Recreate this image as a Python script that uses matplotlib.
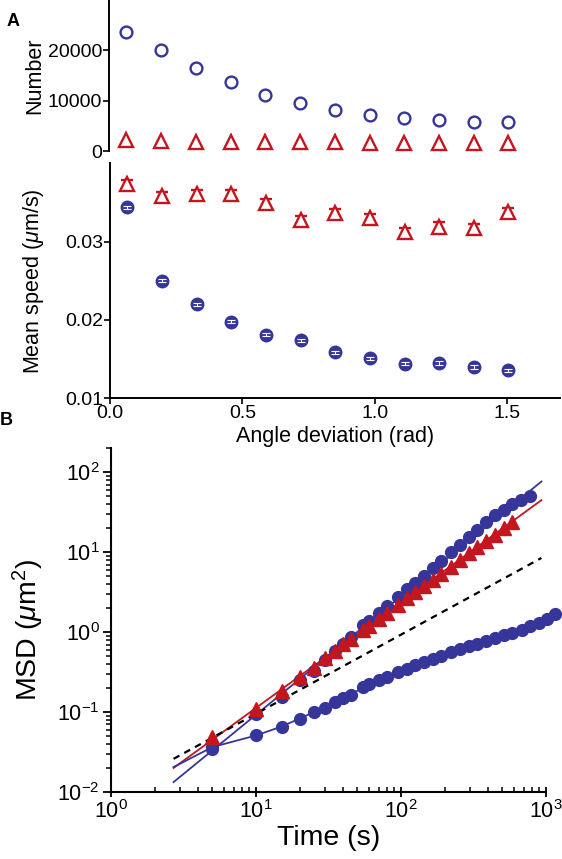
# **** imports ****
import matplotlib
matplotlib.use('Agg')
import matplotlib.pyplot as plt
from matplotlib.ticker import LogLocator, NullFormatter

# **** fonts ****
plt.rcParams['font.family'] = ['Liberation Sans', 'DejaVu Sans']
plt.rcParams['mathtext.fontset'] = 'custom'
plt.rcParams['mathtext.rm'] = 'Liberation Sans'
plt.rcParams['mathtext.it'] = 'Liberation Sans:italic'
plt.rcParams['mathtext.default'] = 'regular'

BLUE = '#35359a'
RED = '#c3161f'

# **** panel A data (angle bins, rad) ****
angle = [0.065, 0.196, 0.327, 0.458, 0.589, 0.720, 0.851, 0.982, 1.113, 1.244, 1.374, 1.505]
number_blue = [23600, 20000, 16400, 13700, 11100, 9450, 8100, 7250, 6600, 6150, 5800, 5700]
number_red = [2100, 1900, 1850, 1800, 1750, 1750, 1700, 1650, 1600, 1550, 1550, 1550]

speed_blue = [0.0344, 0.0250, 0.0220, 0.0198, 0.0181, 0.0174, 0.0159, 0.0151, 0.0144, 0.0145, 0.0140, 0.0136]
speed_blue_err = [0.0002, 0.0002, 0.0002, 0.0002, 0.0002, 0.0002, 0.0002, 0.0002, 0.0002, 0.0002, 0.0002, 0.0002]
speed_red = [0.0374, 0.0358, 0.0361, 0.0361, 0.0349, 0.0328, 0.0337, 0.0330, 0.0312, 0.0319, 0.0317, 0.0338]
speed_red_err = [0.0005, 0.0005, 0.0005, 0.0005, 0.0005, 0.0005, 0.0005, 0.0005, 0.0006, 0.0006, 0.0006, 0.0005]

# **** panel B data (time in s, MSD in um^2) ****
time_fast = [5, 10, 15, 20, 25, 30, 35, 40, 45, 55, 60, 70, 80, 95, 110, 125, 145, 165,
             190, 220, 255, 295, 335, 385, 445, 510, 585, 670, 775]
msd_fast = [0.035, 0.095, 0.154, 0.25, 0.33, 0.45, 0.59, 0.72, 0.86, 1.22, 1.37, 1.72, 2.1,
            2.74, 3.45, 4.1, 5.1, 6.4, 7.9, 10.0, 12.4, 15.4, 19.2, 23.7, 29.5, 34.0, 40.0,
            45.0, 50.0]

time_red = [5, 10, 15, 20, 25, 30, 35, 40, 45, 55, 60, 70, 80, 95, 110, 125, 145, 165,
            190, 220, 255, 295, 335, 385, 445, 510, 585]
msd_red = [0.049, 0.11, 0.185, 0.275, 0.36, 0.48, 0.59, 0.71, 0.82, 1.08, 1.2, 1.48, 1.76,
           2.2, 2.7, 3.15, 3.8, 4.5, 5.4, 6.6, 8.0, 9.7, 11.5, 13.8, 16.7, 20.0, 24.0]

time_slow = [5, 10, 15, 20, 25, 30, 35, 40, 45, 55, 60, 70, 80, 95, 110, 125, 145, 165,
             190, 220, 255, 295, 335, 385, 445, 510, 585, 680, 780, 895, 1020, 1160]
msd_slow = [0.0365, 0.051, 0.066, 0.083, 0.10, 0.114, 0.133, 0.150, 0.165, 0.205, 0.226,
            0.249, 0.279, 0.316, 0.348, 0.384, 0.422, 0.465, 0.51, 0.562, 0.62, 0.668,
            0.716, 0.772, 0.84, 0.91, 0.98, 1.07, 1.18, 1.31, 1.47, 1.70]

# **** fitted lines (end points on log-log axes) ****
fit_fast_t = [2.7, 930]
fit_fast_msd = [0.0133, 77]
fit_red_t = [2.7, 930]
fit_red_msd = [0.020, 45]
fit_slow_t = [2.7, 5]
fit_slow_msd = [0.0205, 0.0365]
diffusive_t = [2.7, 930]
diffusive_msd = [0.026, 8.5]

# **** figure ****
fig = plt.figure(figsize=(5.62, 8.59), dpi=100)

# **** panel A, top: number of steps ****
ax1 = fig.add_axes([0.194, 0.8242, 0.8024, 0.1758])
ax1.plot(angle, number_blue, 'o', ms=8.5, mfc='none', mec=BLUE, mew=1.7, clip_on=False)
ax1.plot(angle, number_red, '^', ms=9.5, mfc='none', mec=RED, mew=1.7, clip_on=False)
ax1.set_xlim(0, 1.7)
ax1.set_ylim(0, 30000)
ax1.set_yticks([0, 10000, 20000])
ax1.set_xticks([])
for side in ['top', 'right', 'bottom']:
    ax1.spines[side].set_visible(False)
ax1.spines['left'].set_linewidth(1.4)
ax1.tick_params(axis='y', direction='out', length=4, width=1.2, labelsize=14, pad=1)
ax1.set_ylabel('Number', fontsize=15.5)
ax1.yaxis.set_label_coords(-0.142, 0.5)

# **** panel A, bottom: mean speed ****
ax2 = fig.add_axes([0.1957, 0.5363, 0.8007, 0.2736])
ax2.plot(angle, speed_blue, 'o', ms=9, color=BLUE, mec=BLUE, zorder=3, clip_on=False)
ax2.errorbar(angle, speed_blue, yerr=speed_blue_err, fmt='none', ecolor='white',
             elinewidth=0.8, capsize=3, capthick=0.8, zorder=4)
ax2.errorbar(angle, speed_red, yerr=speed_red_err, fmt='^', ms=9.5, mfc='white', mec=RED,
             mew=1.7, ecolor=RED, elinewidth=1.4, capsize=4, capthick=1.4, zorder=3)
ax2.set_xlim(0, 1.7)
ax2.set_ylim(0.01, 0.04)
ax2.set_yticks([0.01, 0.02, 0.03])
ax2.set_yticklabels(['0.01', '0.02', '0.03'])
ax2.set_xticks([0.0, 0.5, 1.0, 1.5])
ax2.set_xticklabels(['0.0', '0.5', '1.0', '1.5'])
for side in ['top', 'right']:
    ax2.spines[side].set_visible(False)
ax2.spines['left'].set_linewidth(1.4)
ax2.spines['bottom'].set_linewidth(1.4)
ax2.tick_params(direction='out', length=4, width=1.2, labelsize=14, pad=1)
ax2.set_ylabel(r'Mean speed ($\mathit{\mu}$m/s)', fontsize=15.5)
ax2.yaxis.set_label_coords(-0.142, 0.5)
ax2.set_xlabel('Angle deviation (rad)', fontsize=15.5, labelpad=3)

# **** panel B: MSD ****
ax3 = fig.add_axes([0.1975, 0.078, 0.774, 0.400])
ax3.set_xscale('log')
ax3.set_yscale('log')
ax3.plot(fit_fast_t, fit_fast_msd, '-', color=BLUE, lw=1.3, zorder=2)
ax3.plot(fit_red_t, fit_red_msd, '-', color=RED, lw=1.3, zorder=2)
ax3.plot(diffusive_t, diffusive_msd, '--', color='black', lw=1.6, dashes=(3, 2.5), zorder=2)
ax3.plot(fit_slow_t, fit_slow_msd, '-', color=BLUE, lw=1.3, zorder=2)
ax3.plot(time_slow, msd_slow, '-o', color=BLUE, lw=1.3, ms=8.5, zorder=3, clip_on=False)
ax3.plot(time_fast, msd_fast, 'o', color=BLUE, ms=8.5, zorder=3, clip_on=False)
ax3.plot(time_red, msd_red, '^', color=RED, ms=9.5, zorder=4, clip_on=False)
ax3.set_xlim(1, 1000)
ax3.set_ylim(0.01, 200)
ax3.xaxis.set_major_locator(LogLocator(base=10, numticks=10))
ax3.xaxis.set_minor_locator(LogLocator(base=10, subs=range(2, 10), numticks=20))
ax3.xaxis.set_minor_formatter(NullFormatter())
ax3.yaxis.set_major_locator(LogLocator(base=10, numticks=10))
ax3.yaxis.set_minor_locator(LogLocator(base=10, subs=range(2, 10), numticks=20))
ax3.yaxis.set_minor_formatter(NullFormatter())
ax3.set_yticks([0.01, 0.1, 1, 10, 100])
for side in ['top', 'right']:
    ax3.spines[side].set_visible(False)
ax3.spines['left'].set_linewidth(1.5)
ax3.spines['bottom'].set_linewidth(1.5)
ax3.tick_params(axis='x', which='major', direction='inout', length=7, width=1.3,
                labelsize=15.5, pad=2)
ax3.tick_params(axis='x', which='minor', direction='in', length=3.5, width=1.1)
ax3.tick_params(axis='y', which='major', direction='out', length=6, width=1.3,
                labelsize=15.5, pad=2)
ax3.tick_params(axis='y', which='minor', direction='out', length=3.5, width=1.1)
ax3.set_xlabel('Time (s)', fontsize=20.5, labelpad=2)
ax3.set_ylabel(r'MSD ($\mathit{\mu}$m$^{2}$)', fontsize=20.5)
ax3.yaxis.set_label_coords(-0.149, 0.47)

# **** panel letters ****
fig.text(0.012, 0.985, 'A', fontsize=13, fontweight='bold', va='top')
fig.text(0.0, 0.52, 'B', fontsize=13, fontweight='bold', va='top')

fig.savefig('out.png', dpi=100)
